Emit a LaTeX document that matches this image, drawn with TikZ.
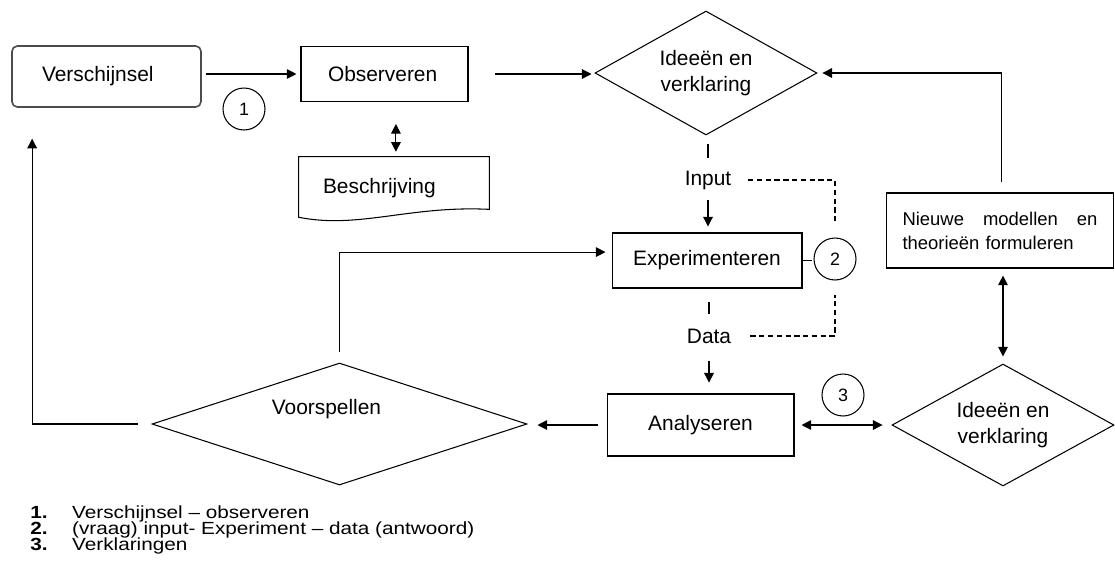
\documentclass[tikz,border=0pt]{standalone}
\usepackage{fontspec}
\setmainfont{Liberation Sans}
\newfontfamily\legfont[FakeStretch=1.18]{Liberation Sans}
\usepackage{tikz}
\usetikzlibrary{arrows.meta, shapes.geometric}
\tikzset{
	box/.style={draw, line width=0.6pt, inner sep=0pt, align=center, font=\fontsize{11.9}{14}\selectfont},
	ruit/.style={draw, diamond, line width=0.6pt, inner sep=0pt, align=center, font=\fontsize{11.9}{14.7}\selectfont},
	nummer/.style={draw, circle, line width=0.6pt, minimum size=0.84cm, inner sep=0pt, font=\fontsize{10.2}{12}\selectfont},
	tekst/.style={inner sep=0pt, font=\fontsize{11.9}{14}\selectfont},
	legenda/.style={anchor=west, inner sep=0pt, font=\legfont\fontsize{10}{12}\selectfont},
	lijn/.style={line width=0.6pt},
	pijl/.style={line width=0.6pt, arrows={-Triangle[length=5.5pt, width=5.5pt]}},
	dubbel/.style={line width=0.6pt, arrows={Triangle[length=5.5pt, width=5.5pt]-Triangle[length=5.5pt, width=5.5pt]}},
	stippel/.style={line width=0.6pt, dash pattern=on 3pt off 2pt}
}

\begin{document}
\begin{tikzpicture}[x=0.02cm, y=-0.02cm]
	\useasboundingbox (0,0) rectangle (1115,569);

	\node[box, draw=black!70, line width=0.9pt, rounded corners=3pt, text width=2.58cm, inner xsep=0.6cm, minimum height=1.22cm, align=left] (versch) at (106.5,76.5) {Verschijnsel};
	\node[box, text width=2.26cm, inner xsep=0.54cm, minimum height=1.1cm, align=left] (obs) at (384.5,74) {Observeren};
	\node[tekst, text width=2.84cm, inner xsep=0.48cm, minimum height=1.04cm, text height=14pt, text depth=2.5pt, align=left] (besch) at (394,183) {Beschrijving};
	\draw[lijn] (besch.north west) -- (besch.north east) -- (besch.south east) .. controls +(-80,-4) and +(60,12) .. ([yshift=-4.5pt]besch.south west) -- cycle;
	\node[ruit, minimum width=4.44cm, minimum height=2.48cm, aspect=1.8] (idee1) at (706,73) {Ideeën en\\verklaring};
	\node[tekst] (inp) at (708,180) {Input};
	\node[box, minimum width=3.8cm, minimum height=1.1cm] (exp) at (707,260.5) {Experimenteren};
	\node[tekst] (dat) at (709,336) {Data};
	\node[box, minimum width=3.74cm, minimum height=1.24cm] (ana) at (700.5,425) {Analyseren};
	\node[ruit, minimum width=7.5cm, minimum height=2.44cm, aspect=3, label={[tekst, shift={(-13,-15)}]center:Voorspellen}] (voorsp) at (339.5,424) {};
	\node[box, text width=3.9cm, inner xsep=0.32cm, minimum height=1.5cm, align=left, font=\fontsize{10.5}{13.6}\selectfont] (nieuw) at (1000,230.5) {Nieuwe\hfill modellen\hfill en\\theorieën formuleren};
	\node[ruit, minimum width=4.44cm, minimum height=2.44cm, aspect=1.8] (idee2) at (1003,425) {Ideeën en\\verklaring};

	\node[nummer] (c1) at (244,109) {1};
	\node[nummer] (c2) at (835,259) {2};
	\node[nummer] (c3) at (843,395) {3};

	\draw[pijl, shorten <=2.3pt, shorten >=2.3pt] (versch.east |- obs.west) -- (obs.west);
	\draw[dubbel, shorten <=12.5pt, shorten >=2.8pt] ([xshift=6.5pt]obs.south) -- ([xshift=6.5pt]obs.south |- besch.north);
	\draw[pijl, shorten <=15.3pt, shorten >=1.7pt] (obs.east) -- (obs.east -| idee1.west);
	\draw[pijl, shorten <=5.7pt, shorten >=2.8pt] ([xshift=1.1pt]nieuw.north) |- (idee1.east);
	\draw[lijn, shorten <=5.1pt, shorten >=6.8pt] (inp.north |- idee1.south) -- (inp.north);
	\draw[pijl, shorten <=5.7pt, shorten >=3.4pt] (inp.south) -- (inp.south |- exp.north);
	\draw[stippel, shorten <=9.4pt, shorten >=9.1pt] (inp.east) -| (c2.north);
	\draw[lijn, shorten >=1.1pt] (exp.east) -- (exp.east -| c2.west);
	\draw[lijn, shorten <=7.9pt, shorten >=7.9pt] (dat.north |- exp.south) -- (dat.north);
	\draw[stippel, shorten <=10.8pt, shorten >=8.5pt] (dat.east) -| (c2.south);
	\draw[pijl, shorten <=9.6pt, shorten >=6.2pt] (dat.south) -- (dat.south |- ana.north);
	\draw[pijl, shorten <=5.1pt, shorten >=5.7pt] (ana.west) -- (ana.west -| voorsp.east);
	\draw[dubbel, shorten <=4pt, shorten >=5.1pt] (ana.east) -- (ana.east -| idee2.west);
	\draw[dubbel, shorten <=4pt, shorten >=4pt] (idee2.north |- nieuw.south) -- (idee2.north);
	\draw[pijl, shorten <=7.9pt, shorten >=17.6pt] (voorsp.west) -| ([xshift=11.9pt]versch.south west);
	\draw[pijl, shorten <=5.7pt, shorten >=3.4pt] (voorsp.north) |- ([yshift=4.8pt]exp.west);

	\node[legenda] (leg1) at (30,514) {\makebox[23.8pt][l]{\textbf{1.}}Verschijnsel – observeren};
	\node[legenda] (leg2) at (30,530) {\makebox[23.8pt][l]{\textbf{2.}}(vraag) input- Experiment – data (antwoord)};
	\node[legenda] (leg3) at (30,546) {\makebox[23.8pt][l]{\textbf{3.}}Verklaringen};
\end{tikzpicture}
\end{document}
